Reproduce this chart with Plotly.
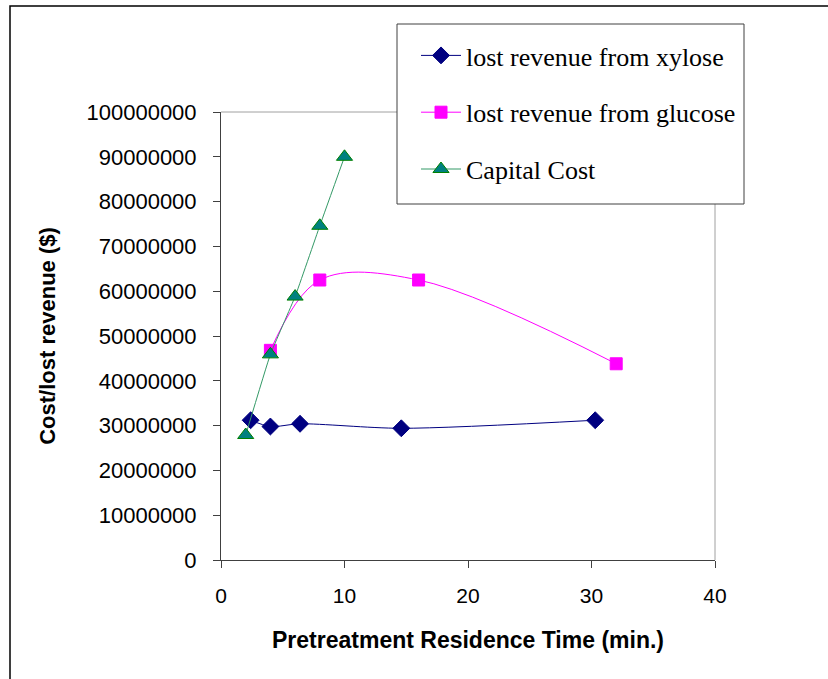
import plotly.graph_objects as go

# Pretreatment residence time (min.) and cost / lost revenue ($)
xylose_time = [2.4, 4.0, 6.4, 14.6, 30.3]
xylose_loss = [31200000, 29800000, 30400000, 29400000, 31200000]

glucose_time = [4.0, 8.0, 16.0, 32.0]
glucose_loss = [46800000, 62500000, 62500000, 43800000]

capital_time = [2.0, 4.0, 6.0, 8.0, 10.0]
capital_cost = [27900000, 45900000, 58800000, 74600000, 90000000]

x_ticks = [0, 10, 20, 30, 40]
y_ticks = [0, 10000000, 20000000, 30000000, 40000000, 50000000,
           60000000, 70000000, 80000000, 90000000, 100000000]

W, H = 828, 679
L, R, T, B = 221, 113, 112, 119
pw, ph = W - L - R, H - T - B


def px_x(v):
    return (v - L) / pw


def px_y(v):
    return (T + ph - v) / ph


fig = go.Figure()
fig.add_trace(go.Scatter(
    x=xylose_time, y=xylose_loss, name="lost revenue from xylose",
    mode="lines+markers", legendgroup="a",
    line=dict(color="#000080", width=1, shape="spline", smoothing=0.8),
    marker=dict(symbol="diamond", size=13, color="#000080",
                line=dict(color="#000080", width=1)),
))
fig.add_trace(go.Scatter(
    x=glucose_time, y=glucose_loss, name="lost revenue from glucose",
    mode="lines+markers", legendgroup="b",
    line=dict(color="#FF00FF", width=1, shape="spline", smoothing=1.0),
    marker=dict(symbol="square", size=12, color="#FF00FF",
                line=dict(color="#FF00FF", width=1)),
))
fig.add_trace(go.Scatter(
    x=capital_time, y=capital_cost, name="Capital Cost",
    mode="lines+markers", legendgroup="c",
    line=dict(color="#339966", width=1, shape="spline", smoothing=0.3),
    marker=dict(symbol="triangle-up", size=14, color="#008080",
                line=dict(color="#008000", width=1)),
))

# outer chart frame (runs off the right and bottom edges)
fig.add_shape(type="rect", xref="paper", yref="paper",
              x0=px_x(10), x1=px_x(W + 5), y0=px_y(H + 5), y1=px_y(6),
              line=dict(color="black", width=1.5), fillcolor="rgba(0,0,0,0)",
              layer="below")

# grey plot-area border on the top and right sides
fig.add_shape(type="line", xref="paper", yref="paper", x0=0, x1=1, y0=1, y1=1,
              line=dict(color="#a0a0a0", width=1), layer="below")
fig.add_shape(type="line", xref="paper", yref="paper", x0=1, x1=1, y0=0, y1=1,
              line=dict(color="#a0a0a0", width=1), layer="below")

# legend box
fig.add_shape(type="rect", xref="paper", yref="paper",
              x0=px_x(397), x1=px_x(744), y0=px_y(204), y1=px_y(24),
              line=dict(color="#404040", width=1), fillcolor="white",
              layer="above")

fig.update_layout(
    width=W, height=H,
    margin=dict(l=L, r=R, t=T, b=B),
    paper_bgcolor="white", plot_bgcolor="white",
    font=dict(family="Liberation Sans, Arial", color="black"),
    showlegend=True,
    legend=dict(
        x=px_x(416), y=px_y(32), xanchor="left", yanchor="top",
        bgcolor="rgba(0,0,0,0)", borderwidth=0,
        font=dict(family="Liberation Serif, Times New Roman", size=26, color="black"),
        tracegroupgap=20, itemwidth=40,
    ),
    xaxis=dict(
        range=[0, 40], tickvals=x_ticks, ticks="outside", ticklen=7,
        tickcolor="#404040", showline=True, linecolor="#404040", mirror=False,
        showgrid=False, zeroline=False, ticklabelstandoff=10,
        tickfont=dict(size=21, family="Liberation Sans, Arial"),
        title=dict(text="<b>Pretreatment Residence Time (min.)</b>",
                   font=dict(size=23, family="Liberation Sans, Arial"), standoff=25),
    ),
    yaxis=dict(
        range=[0, 100000000], tickvals=y_ticks, tickformat="d",
        ticks="outside", ticklen=7, tickcolor="#404040",
        showline=True, linecolor="#404040", showgrid=False, zeroline=False,
        ticklabelstandoff=12,
        tickfont=dict(size=22, family="Liberation Sans, Arial"),
        title=dict(text="<b>Cost/lost revenue ($)</b>",
                   font=dict(size=22, family="Liberation Sans, Arial"), standoff=24),
    ),
)

fig.write_html("out.html")
